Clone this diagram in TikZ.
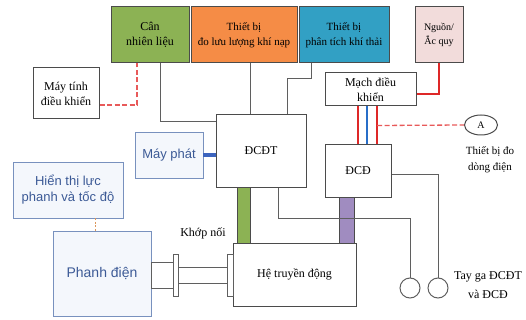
\documentclass[tikz,border=0pt]{standalone}
\usepackage{fontspec}
\setmainfont{Liberation Serif}
\newfontfamily\arialfont{Liberation Sans}
\usepackage{tikz}
\usetikzlibrary{positioning, shapes.geometric}

\definecolor{boxgray}{RGB}{75,75,75}
\definecolor{linegray}{RGB}{95,95,95}
\definecolor{fuelgreen}{RGB}{140,178,84}
\definecolor{airorange}{RGB}{245,140,70}
\definecolor{gasblue}{RGB}{50,160,196}
\definecolor{batpink}{RGB}{242,220,219}
\definecolor{motorpurple}{RGB}{160,140,192}
\definecolor{sigred}{RGB}{222,40,40}
\definecolor{dashred}{RGB}{232,90,90}
\definecolor{wireblue}{RGB}{40,110,200}
\definecolor{genblue}{RGB}{60,100,190}
\definecolor{frameblue}{RGB}{120,145,190}
\definecolor{paleblue}{RGB}{244,247,252}
\definecolor{textblue}{RGB}{60,90,150}
\definecolor{dotorange}{RGB}{220,150,90}

\begin{document}
\begin{tikzpicture}[
    x=1pt, y=-1pt,
    every node/.style={font=\fontsize{12}{15}\selectfont, align=center},
    box/.style={draw=boxgray, line width=1pt, fill=white, inner sep=1pt},
    bluebox/.style={draw=frameblue, line width=0.9pt, fill=paleblue, text=textblue, inner sep=1pt,
        font=\arialfont\fontsize{13}{16}\selectfont},
    link/.style={draw=linegray, line width=1pt},
    ctrlsig/.style={draw=dashred, line width=1.3pt, dash pattern=on 5pt off 2.5pt},
    pedal/.style={circle, draw=linegray, line width=1pt, minimum size=20, inner sep=0pt},
    shaft/.style={draw=linegray, line width=1pt, fill=white, inner sep=0pt},
    flange/.style={shaft, minimum width=5, minimum height=42}
]
\useasboundingbox (0,0) rectangle (526,320);

% Measuring devices
\node[box, fill=fuelgreen, minimum width=78, minimum height=56] (fuel) at (150,35) {Cân\\nhiên liệu};
\node[box, fill=airorange, minimum width=106, minimum height=56, font=\fontsize{11}{15}\selectfont] (air) at (244,35) {Thiết bị\\đo lưu lượng khí nạp};
\node[box, fill=gasblue, minimum width=90, minimum height=56, font=\fontsize{11}{15}\selectfont] (gas) at (344,35) {Thiết bị\\phân tích khí thải};
\node[box, fill=batpink, minimum width=48, minimum height=56, font=\fontsize{10}{14}\selectfont] (bat) at (439,35) {Nguồn/\\Ắc quy};

% Engines and control
\node[box, minimum width=66, minimum height=51] (pc) at (66,93.5) {Máy tính\\điều khiển};
\node[box, minimum width=90, minimum height=72] (ice) at (261,151) {ĐCĐT};
\node[box, minimum width=91, minimum height=33] (ecu) at (370.5,89.5) {Mạch điều\\khiển};
\node[box, minimum width=66, minimum height=52] (emot) at (358,171) {ĐCĐ};
\node[box, minimum width=123, minimum height=63] (drive) at (294.5,274.5) {Hệ truyền động};
\node[ellipse, draw=boxgray, line width=1pt, minimum width=33, minimum height=20, inner sep=0pt,
    font=\fontsize{10}{12}\selectfont] (amp) at (481,125) {A};
\node[below=8pt of amp, xshift=9pt, font=\fontsize{11}{16}\selectfont] (amplbl) {Thiết bị đo\\dòng điện};

% Brake side
\node[bluebox, minimum width=68, minimum height=46] (gen) at (169,155) {Máy phát};
\node[bluebox, minimum width=110, minimum height=56] (disp) at (68,190) {Hiển thị lực\\phanh và tốc độ};
\node[bluebox, minimum width=98, minimum height=85, font=\arialfont\fontsize{14}{17}\selectfont] (brake) at (102,273.5) {Phanh điện};

% Coupling
\node[shaft, minimum width=22, minimum height=26] (shaft1) at (162,275) {};
\node[shaft, minimum width=49, minimum height=16] (shaft2) at (202.5,275) {};
\node[flange] (flange1) at (175.5,275) {};
\node[flange, minimum width=6] (flange2) at (230,275) {};
\node (coupl) at (203,233) {Khớp nối};

% Throttle pedals
\node[pedal] (gas1) at (410,288) {};
\node[pedal] (gas2) at (438,288) {};
\node[right=2pt of gas2, yshift=3pt, font=\fontsize{12}{19}\selectfont] (pedallbl) {Tay ga ĐCĐT\\và ĐCĐ};

% Signal lines
\draw[ctrlsig] ([yshift=-11.5pt]pc.east) -| ([xshift=-13pt]fuel.south);
\draw[link] ([xshift=10pt]fuel.south) |- ([yshift=-7pt]ice.north west);
\draw[link] ([xshift=6pt]air.south) -- ([xshift=-11pt]ice.north);
\draw[link] ([xshift=-33pt]gas.south) -- ++(0,15) -| ([xshift=26pt]ice.north);
\draw[sigred, line width=1.6pt] (bat.south) |- ([yshift=-4.5pt]ecu.east);
\foreach \a/\b/\col in {-12.5/0/sigred, -3.5/9/wireblue, 6.5/19/sigred}
    \draw[\col, line width=1.6pt] ([xshift=\a pt]ecu.south) -- ([xshift=\b pt]emot.north);
\draw[ctrlsig] ([xshift=6.5pt, yshift=-19pt]ecu.south) -- (amp.west);
\draw[dotorange, line width=1pt, dash pattern=on 2pt off 1.5pt] ([xshift=27pt]disp.south) -- ([xshift=-7pt]brake.north);

% Mechanical links
\draw[genblue, line width=3.5pt] (gen.east) -- (gen.east -| ice.west);
\draw[boxgray, fill=fuelgreen, line width=0.8pt] ([xshift=-24pt]ice.south) rectangle ++(13,56);
\draw[boxgray, fill=motorpurple, line width=0.8pt] ([xshift=-19pt]emot.south) rectangle ++(15,46);

% Pedal lines
\draw[link] ([xshift=17pt]ice.south) -- ++(0,31) -| (gas1.north);
\draw[link] ([yshift=-4pt]emot.east) -| (gas2.north);

\end{tikzpicture}
\end{document}
